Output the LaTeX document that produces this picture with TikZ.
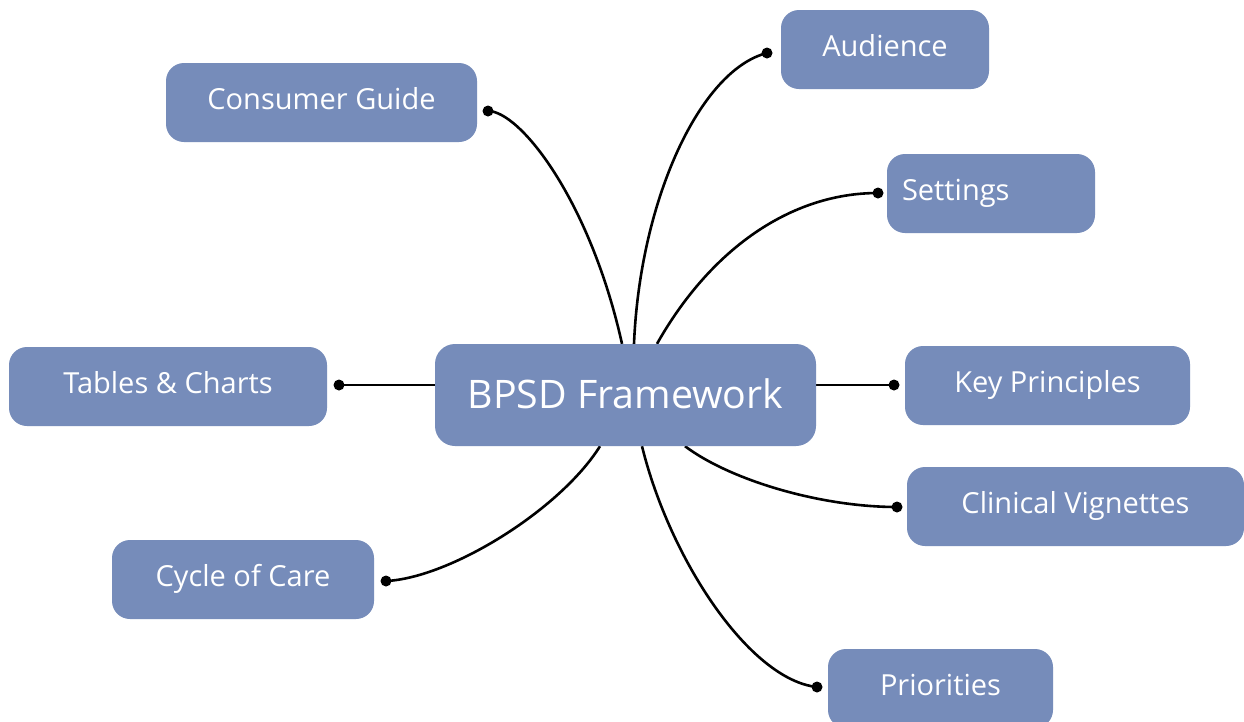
\documentclass[tikz,border=0pt]{standalone}
\usepackage{fontspec}
\setmainfont{Open Sans}
\definecolor{boxblue}{RGB}{118,140,186}
\pgfdeclarelayer{bg}
\pgfsetlayers{bg,main}
\tikzset{
  box/.style={fill=boxblue, rounded corners=18pt, text=white, minimum height=79pt, inner sep=0pt, text height=20pt, text depth=6pt, font=\fontsize{29}{34}\selectfont},
  bigbox/.style={box, minimum height=102pt, rounded corners=20pt, text height=34pt, text depth=8pt, font=\fontsize{39.3}{46}\selectfont},
  dot/.style={circle, fill=black, inner sep=0pt, minimum size=11pt},
  link/.style={line width=2.6pt, black}
}
\begin{document}
\begin{tikzpicture}[x=1pt,y=-1pt]
\useasboundingbox (0,0) rectangle (1244,721);
\node[bigbox, minimum width=381pt] (bpsd) at (625.5,395) {BPSD Framework};
\node[box, minimum width=208pt] (aud) at (885,49.5) {Audience};
\node[box, minimum width=311pt] (cons) at (321.5,102.5) {Consumer Guide};
\node[box, text width=178pt, inner xsep=15pt, align=left] (sett) at (991,193.5) {Settings};
\node[box, minimum width=318pt] (tab) at (168,386.5) {Tables \& Charts};
\node[box, minimum width=285pt] (key) at (1047.5,385.5) {Key Principles};
\node[box, minimum width=337pt] (clin) at (1075.5,506.5) {Clinical Vignettes};
\node[box, minimum width=262pt] (cyc) at (243,579.5) {Cycle of Care};
\node[box, minimum width=225pt] (pri) at (940.5,688.5) {Priorities};

\node[dot] (dcons) at (488,111) {};
\node[dot] (daud) at (767,53) {};
\node[dot] (dsett) at (878,193) {};
\node[dot] (dtab) at (339,385) {};
\node[dot] (dkey) at (894,385) {};
\node[dot] (dclin) at (897,507) {};
\node[dot] (dcyc) at (386,581) {};
\node[dot] (dpri) at (817,687) {};

\begin{pgfonlayer}{bg}
\fill[white] (0,0) rectangle (1244,721);
\draw[link] ([xshift=-3.5pt]bpsd.north) .. controls (590,200) and (520,111) .. (dcons.center);
\draw[link] ([xshift=8.5pt]bpsd.north) .. controls (640,200) and (700,70) .. (daud.center);
\draw[link] ([xshift=31.5pt]bpsd.north) .. controls (710,250) and (790,193) .. (dsett.center);
\draw[link] (dtab.center) -- (dtab.center -| bpsd.west);
\draw[link] (dkey.center) -- (dkey.center -| bpsd.east);
\draw[link] ([xshift=59.5pt]bpsd.south) .. controls (730,480) and (820,507) .. (dclin.center);
\draw[link] ([xshift=-25.5pt]bpsd.south) .. controls (560,510) and (450,578) .. (dcyc.center);
\draw[link] ([xshift=16.5pt]bpsd.south) .. controls (670,560) and (750,680) .. (dpri.center);
\end{pgfonlayer}
\end{tikzpicture}
\end{document}
